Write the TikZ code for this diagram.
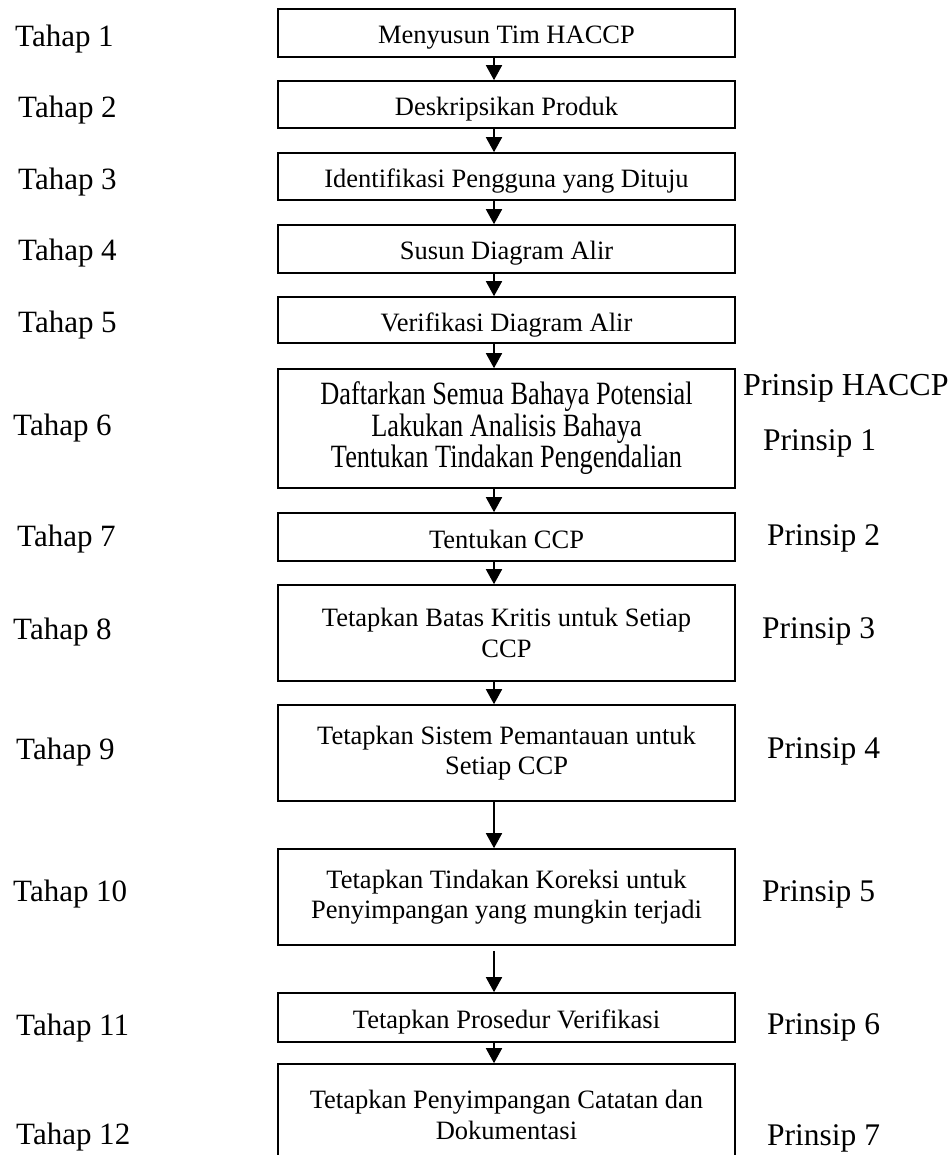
\documentclass[tikz,border=0pt]{standalone}
\usepackage{fontspec}
\setmainfont{Liberation Serif}
\newfontfamily\tallserif{Liberation Serif}[FakeStretch=0.81]
\usetikzlibrary{arrows.meta}

\begin{document}
\begin{tikzpicture}[
      x=1pt, y=-1pt,
      box/.style={draw, line width=1.6pt, minimum width=457pt, inner sep=0pt,
                  align=center, font=\fontsize{26.5}{30.5}\selectfont},
      onebox/.style={box, text height=22pt, text depth=0pt},
      tallbox/.style={box, font=\tallserif\fontsize{32.5}{31.5}\selectfont},
      tahap/.style={anchor=base west, inner sep=0pt, font=\fontsize{31}{36}\selectfont},
      prinsip/.style={anchor=base west, inner sep=0pt, font=\fontsize{31.5}{36}\selectfont},
      arr/.style={-{Triangle[length=15pt, width=16pt]}, line width=1.6pt}
    ]
    \useasboundingbox (0,0) rectangle (951,1155);
    \clip (0,0) rectangle (951,1155);
    % steps
    \node[onebox, minimum height=48pt] (b1) at (506.5,33) {Menyusun Tim HACCP};
    \node[onebox, minimum height=47pt] (b2) at (506.5,104.5) {Deskripsikan Produk};
    \node[onebox, minimum height=47pt] (b3) at (506.5,176.5) {Identifikasi Pengguna yang Dituju};
    \node[onebox, minimum height=48pt] (b4) at (506.5,249) {Susun Diagram Alir};
    \node[onebox, minimum height=46pt] (b5) at (506.5,320) {Verifikasi Diagram Alir};
    \node[tallbox, minimum height=119pt] (b6) at (506.5,428.5)
      {Daftarkan Semua Bahaya Potensial\\Lakukan Analisis Bahaya\\Tentukan Tindakan Pengendalian};
    \node[onebox, minimum height=48pt] (b7) at (506.5,537) {Tentukan CCP};
    \node[box, minimum height=96pt] (b8) at (506.5,633) {Tetapkan Batas Kritis untuk Setiap\\CCP};
    \node[box, minimum height=96pt] (b9) at (506.5,753) {Tetapkan Sistem Pemantauan untuk\\Setiap CCP};
    \node[box, minimum height=96pt] (b10) at (506.5,897)
      {Tetapkan Tindakan Koreksi untuk\\Penyimpangan yang mungkin terjadi};
    \node[onebox, minimum height=49pt] (b11) at (506.5,1017.5) {Tetapkan Prosedur Verifikasi};
    \node[box, minimum height=102pt] (b12) at (506.5,1115)
      {Tetapkan Penyimpangan Catatan dan\\Dokumentasi};
    % left column
    \node[tahap] (t1) at (15,47) {Tahap 1};
    \node[tahap] (t2) at (18,118) {Tahap 2};
    \node[tahap] (t3) at (18,190) {Tahap 3};
    \node[tahap] (t4) at (18,261) {Tahap 4};
    \node[tahap] (t5) at (18,332) {Tahap 5};
    \node[tahap] (t6) at (13,435) {Tahap 6};
    \node[tahap] (t7) at (17,546) {Tahap 7};
    \node[tahap] (t8) at (13,639) {Tahap 8};
    \node[tahap] (t9) at (16,759) {Tahap 9};
    \node[tahap] (t10) at (13,901) {Tahap 10};
    \node[tahap] (t11) at (16,1035) {Tahap 11};
    \node[tahap] (t12) at (16,1144) {Tahap 12};
    % right column
    \node[prinsip, font=\fontsize{32}{36}\selectfont] (p0) at (743,395) {Prinsip HACCP};
    \node[prinsip] (p1) at (763,450) {Prinsip 1};
    \node[prinsip] (p2) at (767,545) {Prinsip 2};
    \node[prinsip] (p3) at (762,638) {Prinsip 3};
    \node[prinsip] (p4) at (767,758) {Prinsip 4};
    \node[prinsip] (p5) at (762,901) {Prinsip 5};
    \node[prinsip] (p6) at (767,1034) {Prinsip 6};
    \node[prinsip] (p7) at (767,1145) {Prinsip 7};
    % arrows
    \coordinate (ax) at (494,0);
    \draw[arr] (ax |- b1.south) -- (ax |- b2.north);
    \draw[arr] (ax |- b2.south) -- (ax |- b3.north);
    \draw[arr] (ax |- b3.south) -- (ax |- b4.north);
    \draw[arr] (ax |- b4.south) -- (ax |- b5.north);
    \draw[arr] (ax |- b5.south) -- (ax |- b6.north);
    \draw[arr] (ax |- b6.south) -- (ax |- b7.north);
    \draw[arr] (ax |- b7.south) -- (ax |- b8.north);
    \draw[arr] (ax |- b8.south) -- (ax |- b9.north);
    \draw[arr] (ax |- b9.south) -- (ax |- b10.north);
    \draw[arr, shorten <=5pt] (ax |- b10.south) -- (ax |- b11.north);
    \draw[arr] (ax |- b11.south) -- (ax |- b12.north);
\end{tikzpicture}
\end{document}
